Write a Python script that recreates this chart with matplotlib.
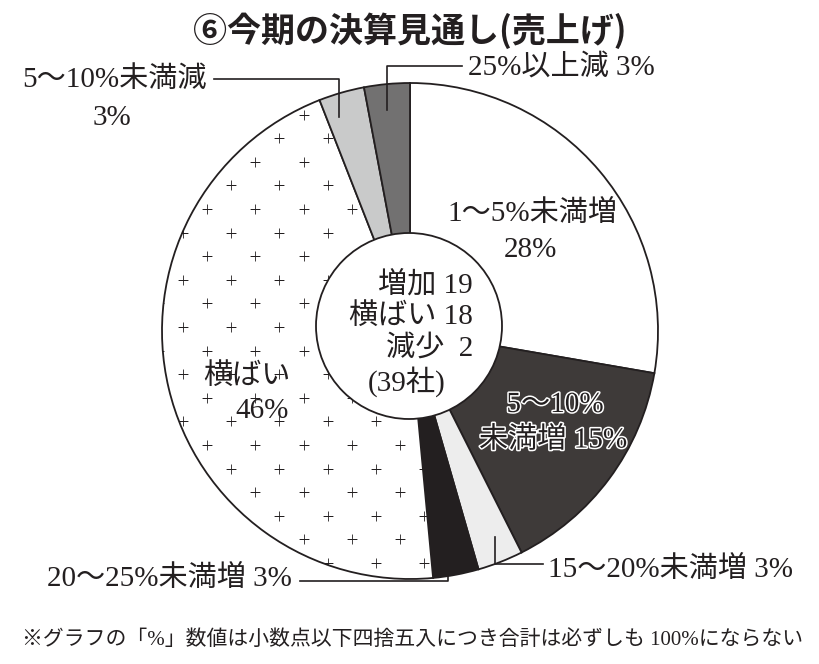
import numpy as np
import matplotlib
matplotlib.use("Agg")
from matplotlib import pyplot as plt
from matplotlib.patches import Circle
import matplotlib.patheffects as pe

# データ（時計回り、12時から）
labels = ['1〜5%未満増', '5〜10%未満増', '15〜20%未満増', '20〜25%未満増',
          '横ばい', '5〜10%未満減', '25%以上減']
shares = [28, 15, 3, 3, 46, 3, 3]
colors = ['#ffffff', '#3e3a39', '#ededed', '#231f20', '#ffffff', '#c9caca', '#727171']

summary_names = ['増加', '横ばい', '減少']
summary_counts = [19, 18, 2]
total = 39

title = '⑥今期の決算見通し(売上げ)'
note = '※グラフの「%」数値は小数点以下四捨五入につき合計は必ずしも 100%にならない'

W, H = 820, 664
INK = '#231f20'
SERIF = ['Liberation Serif', 'Noto Sans CJK JP']
GOTHIC = ['Noto Sans CJK JP', 'DejaVu Sans']

fig = plt.figure(figsize=(W / 100, H / 100), dpi=100)
ax = fig.add_axes([0, 0, 1, 1])


def P(x, y):
    # 画像座標（上から）→ 軸座標
    return x, H - y


cx, cy = P(410, 331)
wedges, _ = ax.pie(shares, colors=colors, startangle=90, counterclock=False,
                   center=(cx, cy), radius=248,
                   wedgeprops=dict(edgecolor=INK, linewidth=1.3))
ax.set_xlim(0, W)
ax.set_ylim(0, H)
ax.set_aspect('equal')
ax.axis('off')

# 横ばいの「+」模様
gx, gy = [], []
for m, y in enumerate(np.arange(209 - 23.6 * 6, 600, 23.6)):
    off = 0 if m % 2 == 0 else 24
    for x in np.arange(207 - 48.3 * 2 + off, 660, 48.3):
        gx.append(x)
        gy.append(H - y)
sc = ax.scatter(gx, gy, marker='+', s=45, c=INK, linewidths=0.6, zorder=3)
sc.set_clip_path(wedges[4])

# 中央の円
ax.add_patch(Circle(P(409, 326), 93, facecolor='white', edgecolor=INK,
                    linewidth=1.3, zorder=4))

fs = 21
for i, (n, c) in enumerate(zip(summary_names, summary_counts)):
    s = f'{n} {c}' if c >= 10 else f'{n}  {c}'
    ax.text(*P(473, 285 + 31.5 * i), s, ha='right', va='center', fontsize=fs,
            family=SERIF, color=INK, zorder=5)
ax.text(*P(407, 382), f'({total}社)', ha='center', va='center', fontsize=fs,
        family=SERIF, color=INK, zorder=5)

# ラベル
ax.text(*P(410, 31), title, ha='center', va='center', fontsize=24.5,
        family=GOTHIC, fontweight='bold', color=INK)

ax.text(*P(532, 213), labels[0], ha='center', va='center', fontsize=fs, family=SERIF, color=INK)
ax.text(*P(530, 250), f'{shares[0]}%', ha='center', va='center', fontsize=fs, family=SERIF, color=INK)

halo = [pe.withStroke(linewidth=2.2, foreground='white')]
ax.text(*P(555, 405), '5〜10%', ha='center', va='center', fontsize=fs, family=SERIF,
        color=INK, path_effects=halo, zorder=5)
ax.text(*P(553, 440), f'未満増 {shares[1]}%', ha='center', va='center', fontsize=fs,
        family=SERIF, color=INK, path_effects=halo, zorder=5)

ax.text(*P(247, 376), labels[4], ha='center', va='center', fontsize=fs, family=SERIF, color=INK, zorder=5)
ax.text(*P(262, 411), f'{shares[4]}%', ha='center', va='center', fontsize=fs, family=SERIF, color=INK, zorder=5)

ax.text(*P(548, 569), f'{labels[2]} {shares[2]}%', ha='left', va='center', fontsize=fs, family=SERIF, color=INK)
ax.text(*P(292, 578), f'{labels[3]} {shares[3]}%', ha='right', va='center', fontsize=fs, family=SERIF, color=INK)
ax.text(*P(468, 67), f'{labels[6]} {shares[6]}%', ha='left', va='center', fontsize=fs, family=SERIF, color=INK)
ax.text(*P(22, 80), labels[5], ha='left', va='center', fontsize=fs, family=SERIF, color=INK)
ax.text(*P(112, 118), f'{shares[5]}%', ha='center', va='center', fontsize=fs, family=SERIF, color=INK)

# 引き出し線
leaders = [
    [(495, 537), (495, 564), (543, 564)],
    [(448, 573), (448, 581), (300, 581)],
    [(387, 110), (387, 66), (462, 66)],
    [(339, 117), (339, 79), (214, 79)],
]
for pts in leaders:
    xs = [p[0] for p in pts]
    ys = [H - p[1] for p in pts]
    ax.plot(xs, ys, color=INK, linewidth=1.2, zorder=6)

ax.text(*P(413, 640), note, ha='center', va='center', fontsize=15, family=SERIF, color=INK)

fig.savefig('out.png', dpi=100, facecolor='white')
